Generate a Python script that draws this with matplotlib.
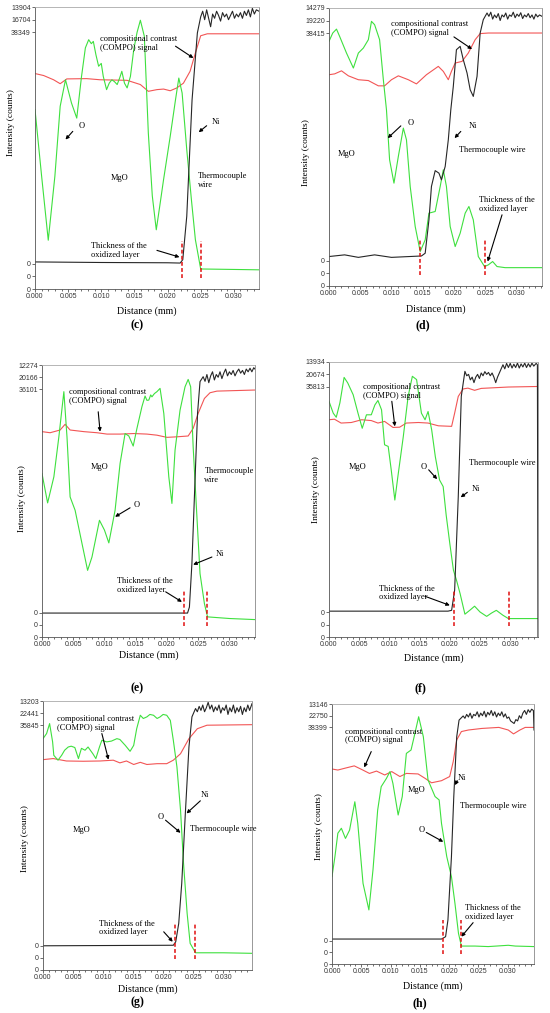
import matplotlib.pyplot as plt
from matplotlib.ticker import MultipleLocator, FixedLocator

# ---- data: (distance mm, normalised intensity 0..1) ----
# panel (c)
c_o = [(0, 0.636), (0.0010, 0.40), (0.0020, 0.173), (0.0030, 0.40), (0.0038, 0.648), (0.0046, 0.742),
       (0.0055, 0.66), (0.0063, 0.606), (0.0070, 0.75), (0.0076, 0.855), (0.0081, 0.884), (0.0085, 0.87),
       (0.0088, 0.878), (0.0092, 0.83), (0.0096, 0.79), (0.0100, 0.80), (0.0103, 0.754), (0.0108, 0.707),
       (0.0112, 0.73), (0.0116, 0.742), (0.0120, 0.735), (0.0124, 0.725), (0.0128, 0.75), (0.0131, 0.772),
       (0.0135, 0.73), (0.0139, 0.713), (0.0144, 0.754), (0.0149, 0.849), (0.0154, 0.91), (0.0159, 0.953),
       (0.0165, 0.896), (0.0171, 0.553), (0.0177, 0.33), (0.0183, 0.210), (0.0188, 0.29), (0.0194, 0.388),
       (0.0204, 0.541), (0.0212, 0.671), (0.0217, 0.748), (0.0222, 0.695), (0.0229, 0.494), (0.0236, 0.317),
       (0.0242, 0.175), (0.0250, 0.071), (0.0280, 0.070), (0.0310, 0.069), (0.0338, 0.068)]
c_ni = [(0, 0.096), (0.010, 0.094), (0.020, 0.093), (0.0219, 0.092), (0.0223, 0.104), (0.0229, 0.258),
        (0.0237, 0.671), (0.0245, 0.908), (0.0250, 0.965), (0.0253, 0.985), (0.0256, 0.955), (0.0259, 0.99),
        (0.0262, 0.96), (0.0265, 0.93), (0.0268, 0.975), (0.0271, 0.96), (0.0274, 0.985), (0.0277, 0.97),
        (0.0280, 0.95), (0.0283, 0.98), (0.0286, 0.965), (0.0289, 0.975), (0.0292, 0.955), (0.0295, 0.97),
        (0.0298, 0.985), (0.0301, 0.96), (0.0304, 0.975), (0.0307, 0.965), (0.0310, 0.98), (0.0313, 0.96),
        (0.0316, 0.985), (0.0319, 0.97), (0.0322, 0.99), (0.0325, 0.965), (0.0328, 0.995), (0.0331, 0.975),
        (0.0334, 0.99), (0.0338, 0.985)]
c_compo = [(0, 0.764), (0.0013, 0.757), (0.0028, 0.742), (0.0038, 0.728), (0.0048, 0.745), (0.0078, 0.746),
           (0.0098, 0.742), (0.0139, 0.740), (0.0159, 0.725), (0.0171, 0.701), (0.0184, 0.707), (0.0194, 0.709),
           (0.0204, 0.703), (0.0214, 0.713), (0.0224, 0.730), (0.0234, 0.772), (0.0242, 0.837), (0.0250, 0.898),
           (0.0260, 0.905), (0.0338, 0.905)]
c_layer = [0.0222, 0.0251]
c_yticks = ['13904', '16704', '38349']

# panel (d)
d_o = [(0, 0.88), (0.0006, 0.91), (0.0012, 0.924), (0.0017, 0.898), (0.0028, 0.838), (0.0039, 0.784),
       (0.0047, 0.838), (0.0055, 0.856), (0.0063, 0.886), (0.0068, 0.952), (0.0073, 0.940), (0.0081, 0.886),
       (0.0087, 0.742), (0.0092, 0.634), (0.0097, 0.454), (0.0104, 0.370), (0.0111, 0.466), (0.0119, 0.568),
       (0.0124, 0.526), (0.0130, 0.358), (0.0138, 0.214), (0.0146, 0.124), (0.0154, 0.166), (0.0160, 0.262),
       (0.0170, 0.268), (0.0178, 0.358), (0.0183, 0.418), (0.0188, 0.358), (0.0194, 0.214), (0.0202, 0.142),
       (0.0210, 0.190), (0.0218, 0.262), (0.0224, 0.286), (0.0231, 0.238), (0.0239, 0.106), (0.0249, 0.070),
       (0.0255, 0.076), (0.0262, 0.088), (0.0269, 0.070), (0.0282, 0.066), (0.0341, 0.066)]
d_ni = [(0, 0.106), (0.0025, 0.112), (0.0047, 0.103), (0.0073, 0.112), (0.0100, 0.103), (0.0148, 0.108),
        (0.0154, 0.118), (0.0160, 0.238), (0.0164, 0.358), (0.0170, 0.415), (0.0176, 0.406), (0.0180, 0.382),
        (0.0186, 0.430), (0.0191, 0.526), (0.0195, 0.634), (0.0199, 0.718), (0.0204, 0.850), (0.0210, 0.862),
        (0.0215, 0.814), (0.0221, 0.766), (0.0226, 0.706), (0.0231, 0.682), (0.0237, 0.754), (0.0242, 0.910),
        (0.0247, 0.958), (0.0253, 0.982), (0.0256, 0.970), (0.0259, 0.985), (0.0262, 0.960), (0.0265, 0.975),
        (0.0268, 0.965), (0.0271, 0.980), (0.0274, 0.955), (0.0277, 0.975), (0.0280, 0.968), (0.0283, 0.982),
        (0.0286, 0.960), (0.0289, 0.975), (0.0292, 0.970), (0.0295, 0.985), (0.0298, 0.965), (0.0301, 0.978),
        (0.0304, 0.970), (0.0307, 0.983), (0.0310, 0.962), (0.0313, 0.975), (0.0316, 0.968), (0.0319, 0.980),
        (0.0322, 0.965), (0.0325, 0.975), (0.0328, 0.960), (0.0331, 0.978), (0.0334, 0.968), (0.0337, 0.975),
        (0.0341, 0.970)]
d_compo = [(0, 0.760), (0.0009, 0.763), (0.0020, 0.774), (0.0031, 0.756), (0.0047, 0.742), (0.0063, 0.739),
           (0.0079, 0.720), (0.0089, 0.720), (0.0100, 0.742), (0.0111, 0.756), (0.0127, 0.742), (0.0140, 0.727),
           (0.0156, 0.760), (0.0175, 0.790), (0.0183, 0.772), (0.0191, 0.742), (0.0196, 0.772), (0.0202, 0.802),
           (0.0213, 0.808), (0.0223, 0.838), (0.0234, 0.886), (0.0242, 0.908), (0.0255, 0.910), (0.0341, 0.910)]
d_layer = [0.0145, 0.0249]
d_yticks = ['14279', '19220', '38415']

# panel (e)
e_o = [(0, 0.601), (0.0009, 0.493), (0.0019, 0.589), (0.0027, 0.736), (0.0035, 0.902), (0.0040, 0.736),
       (0.0045, 0.515), (0.0053, 0.466), (0.0064, 0.344), (0.0073, 0.245), (0.0080, 0.294), (0.0092, 0.429),
       (0.0100, 0.393), (0.0107, 0.346), (0.0117, 0.466), (0.0125, 0.638), (0.0133, 0.748), (0.0139, 0.739),
       (0.0146, 0.702), (0.0152, 0.767), (0.0160, 0.847), (0.0165, 0.886), (0.0168, 0.870), (0.0171, 0.871),
       (0.0174, 0.890), (0.0176, 0.883), (0.0180, 0.895), (0.0184, 0.902), (0.0189, 0.914), (0.0195, 0.822),
       (0.0203, 0.589), (0.0208, 0.491), (0.0213, 0.687), (0.0221, 0.834), (0.0229, 0.920), (0.0234, 0.947),
       (0.0238, 0.920), (0.0242, 0.699), (0.0248, 0.442), (0.0253, 0.233), (0.0260, 0.123), (0.0265, 0.074),
       (0.0300, 0.068), (0.0341, 0.064)]
e_ni = [(0, 0.088), (0.0233, 0.088), (0.0236, 0.110), (0.0240, 0.270), (0.0245, 0.577), (0.0249, 0.822),
        (0.0253, 0.939), (0.0258, 0.957), (0.0261, 0.940), (0.0264, 0.965), (0.0267, 0.935), (0.0270, 0.960),
        (0.0273, 0.975), (0.0276, 0.945), (0.0279, 0.965), (0.0282, 0.955), (0.0285, 0.975), (0.0288, 0.950),
        (0.0291, 0.970), (0.0294, 0.985), (0.0297, 0.960), (0.0300, 0.975), (0.0303, 0.965), (0.0306, 0.980),
        (0.0309, 0.960), (0.0312, 0.975), (0.0315, 0.985), (0.0318, 0.970), (0.0321, 0.980), (0.0324, 0.965),
        (0.0327, 0.985), (0.0330, 0.975), (0.0333, 0.988), (0.0336, 0.975), (0.0339, 0.990), (0.0341, 0.985)]
e_compo = [(0, 0.755), (0.0013, 0.751), (0.0029, 0.761), (0.0037, 0.782), (0.0045, 0.761), (0.0067, 0.755),
           (0.0088, 0.751), (0.0104, 0.746), (0.0125, 0.746), (0.0147, 0.748), (0.0168, 0.746), (0.0184, 0.742),
           (0.0200, 0.734), (0.0216, 0.736), (0.0234, 0.739), (0.0242, 0.767), (0.0250, 0.822), (0.0260, 0.877),
           (0.0269, 0.898), (0.0280, 0.904), (0.0341, 0.908)]
e_layer = [0.0228, 0.0264]
e_yticks = ['12274', '20166', '36101']

# panel (f)
f_o = [(0, 0.857), (0.0007, 0.814), (0.0012, 0.799), (0.0018, 0.851), (0.0025, 0.944), (0.0031, 0.924),
       (0.0040, 0.881), (0.0048, 0.814), (0.0055, 0.759), (0.0062, 0.808), (0.0070, 0.808), (0.0076, 0.844),
       (0.0081, 0.860), (0.0087, 0.826), (0.0092, 0.699), (0.0098, 0.693), (0.0103, 0.608), (0.0109, 0.498),
       (0.0114, 0.583), (0.0123, 0.729), (0.0131, 0.875), (0.0138, 0.948), (0.0145, 0.936), (0.0153, 0.814),
       (0.0159, 0.790), (0.0164, 0.820), (0.0170, 0.753), (0.0176, 0.656), (0.0183, 0.571), (0.0189, 0.547),
       (0.0194, 0.443), (0.0200, 0.340), (0.0206, 0.243), (0.0211, 0.207), (0.0217, 0.158), (0.0225, 0.083),
       (0.0233, 0.097), (0.0241, 0.112), (0.0250, 0.091), (0.0261, 0.075), (0.0269, 0.087), (0.0277, 0.097),
       (0.0288, 0.079), (0.0297, 0.067), (0.0346, 0.067)]
f_ni = [(0, 0.094), (0.0197, 0.094), (0.0203, 0.097), (0.0208, 0.170), (0.0214, 0.510), (0.0219, 0.875),
        (0.0225, 0.966), (0.0228, 0.950), (0.0231, 0.955), (0.0234, 0.935), (0.0237, 0.945), (0.0240, 0.925),
        (0.0243, 0.945), (0.0246, 0.955), (0.0249, 0.940), (0.0252, 0.960), (0.0255, 0.950), (0.0258, 0.965),
        (0.0261, 0.955), (0.0264, 0.962), (0.0267, 0.950), (0.0270, 0.960), (0.0273, 0.945), (0.0276, 0.925),
        (0.0279, 0.945), (0.0282, 0.960), (0.0285, 0.975), (0.0288, 0.990), (0.0291, 0.975), (0.0294, 0.995),
        (0.0297, 0.980), (0.0300, 0.995), (0.0303, 0.978), (0.0306, 0.992), (0.0309, 0.980), (0.0312, 0.996),
        (0.0315, 0.978), (0.0318, 0.993), (0.0321, 0.982), (0.0324, 0.996), (0.0327, 0.980), (0.0330, 0.994),
        (0.0333, 0.982), (0.0336, 0.996), (0.0339, 0.985), (0.0343, 0.995), (0.0345, 0.990), (0.0346, 0.0)]
f_compo = [(0, 0.790), (0.0009, 0.792), (0.0020, 0.778), (0.0037, 0.780), (0.0054, 0.790), (0.0070, 0.787),
           (0.0081, 0.778), (0.0092, 0.784), (0.0106, 0.762), (0.0117, 0.763), (0.0128, 0.778), (0.0148, 0.780),
           (0.0164, 0.778), (0.0181, 0.768), (0.0203, 0.766), (0.0208, 0.814), (0.0214, 0.875), (0.0222, 0.902),
           (0.0230, 0.905), (0.0241, 0.897), (0.0252, 0.904), (0.0297, 0.909), (0.0346, 0.911)]
f_layer = [0.0207, 0.0298]
f_yticks = ['13934', '20674', '35813']

# panel (g)
g_o = [(0, 0.860), (0.0006, 0.879), (0.0011, 0.916), (0.0016, 0.848), (0.0018, 0.798), (0.0025, 0.780),
       (0.0031, 0.798), (0.0036, 0.817), (0.0042, 0.829), (0.0047, 0.832), (0.0053, 0.827), (0.0059, 0.786),
       (0.0064, 0.824), (0.0070, 0.817), (0.0075, 0.829), (0.0083, 0.804), (0.0088, 0.786), (0.0094, 0.829),
       (0.0098, 0.854), (0.0106, 0.848), (0.0114, 0.851), (0.0123, 0.860), (0.0128, 0.857), (0.0137, 0.835),
       (0.0145, 0.813), (0.0151, 0.835), (0.0156, 0.897), (0.0162, 0.947), (0.0167, 0.935), (0.0173, 0.941),
       (0.0178, 0.950), (0.0184, 0.947), (0.0190, 0.935), (0.0195, 0.941), (0.0200, 0.950), (0.0206, 0.947),
       (0.0212, 0.928), (0.0217, 0.854), (0.0223, 0.755), (0.0229, 0.594), (0.0234, 0.396), (0.0240, 0.210),
       (0.0245, 0.099), (0.0254, 0.064), (0.0300, 0.064), (0.0348, 0.062)]
g_ni = [(0, 0.090), (0.0217, 0.092), (0.0221, 0.105), (0.0226, 0.173), (0.0231, 0.322), (0.0237, 0.582),
        (0.0243, 0.829), (0.0248, 0.941), (0.0254, 0.972), (0.0257, 0.960), (0.0260, 0.980), (0.0263, 0.965),
        (0.0266, 0.985), (0.0269, 0.960), (0.0272, 0.975), (0.0275, 0.995), (0.0278, 0.970), (0.0281, 0.985),
        (0.0284, 0.960), (0.0287, 0.978), (0.0290, 0.965), (0.0293, 0.985), (0.0296, 0.955), (0.0299, 0.975),
        (0.0302, 0.965), (0.0305, 0.985), (0.0308, 0.950), (0.0311, 0.975), (0.0314, 0.960), (0.0317, 0.985),
        (0.0320, 0.955), (0.0323, 0.975), (0.0326, 0.960), (0.0329, 0.980), (0.0332, 0.950), (0.0335, 0.975),
        (0.0338, 0.960), (0.0341, 0.985), (0.0344, 0.965), (0.0348, 0.990)]
g_compo = [(0, 0.782), (0.0017, 0.786), (0.0039, 0.777), (0.0067, 0.776), (0.0095, 0.777), (0.0117, 0.780),
           (0.0128, 0.770), (0.0139, 0.777), (0.0151, 0.764), (0.0162, 0.772), (0.0173, 0.764), (0.0190, 0.767),
           (0.0206, 0.767), (0.0217, 0.780), (0.0229, 0.804), (0.0243, 0.860), (0.0257, 0.897), (0.0273, 0.910),
           (0.0348, 0.912)]
g_layer = [0.0219, 0.0253]
g_yticks = ['13203', '22441', '35845']

# panel (h)
h_o = [(0, 0.336), (0.0005, 0.413), (0.0010, 0.503), (0.0016, 0.522), (0.0023, 0.483), (0.0030, 0.515),
       (0.0039, 0.624), (0.0044, 0.541), (0.0053, 0.310), (0.0063, 0.208), (0.0070, 0.362), (0.0078, 0.592),
       (0.0084, 0.682), (0.0093, 0.714), (0.0099, 0.740), (0.0104, 0.695), (0.0113, 0.573), (0.0120, 0.644),
       (0.0127, 0.810), (0.0135, 0.823), (0.0141, 0.881), (0.0148, 0.951), (0.0156, 0.874), (0.0164, 0.708),
       (0.0176, 0.644), (0.0183, 0.631), (0.0187, 0.541), (0.0196, 0.413), (0.0204, 0.336), (0.0210, 0.233),
       (0.0216, 0.118), (0.0221, 0.069), (0.0244, 0.069), (0.0267, 0.067), (0.0301, 0.072), (0.0313, 0.069),
       (0.0345, 0.067)]
h_ni = [(0, 0.096), (0.0187, 0.096), (0.0194, 0.105), (0.0198, 0.169), (0.0204, 0.413), (0.0208, 0.644),
        (0.0213, 0.874), (0.0217, 0.938), (0.0224, 0.954), (0.0227, 0.945), (0.0230, 0.960), (0.0233, 0.950),
        (0.0236, 0.965), (0.0239, 0.945), (0.0242, 0.960), (0.0245, 0.955), (0.0248, 0.970), (0.0251, 0.950),
        (0.0254, 0.965), (0.0257, 0.955), (0.0260, 0.972), (0.0263, 0.950), (0.0266, 0.968), (0.0269, 0.958),
        (0.0272, 0.975), (0.0275, 0.955), (0.0278, 0.970), (0.0281, 0.950), (0.0284, 0.965), (0.0287, 0.955),
        (0.0290, 0.970), (0.0293, 0.950), (0.0296, 0.962), (0.0299, 0.945), (0.0302, 0.950), (0.0305, 0.935),
        (0.0308, 0.930), (0.0311, 0.925), (0.0314, 0.940), (0.0317, 0.935), (0.0320, 0.955), (0.0323, 0.945),
        (0.0326, 0.965), (0.0329, 0.975), (0.0332, 0.960), (0.0335, 0.978), (0.0338, 0.968), (0.0341, 0.980),
        (0.0344, 0.975), (0.0345, 0.900)]
h_compo = [(0, 0.750), (0.0010, 0.746), (0.0022, 0.753), (0.0038, 0.762), (0.0050, 0.749), (0.0064, 0.733),
           (0.0076, 0.742), (0.0090, 0.727), (0.0102, 0.740), (0.0116, 0.721), (0.0127, 0.733), (0.0147, 0.731),
           (0.0159, 0.714), (0.0170, 0.697), (0.0187, 0.705), (0.0201, 0.721), (0.0207, 0.778), (0.0213, 0.862),
           (0.0221, 0.894), (0.0233, 0.900), (0.0256, 0.906), (0.0285, 0.910), (0.0301, 0.900), (0.0310, 0.885),
           (0.0321, 0.900), (0.0330, 0.910), (0.0345, 0.910)]
h_layer = [0.0189, 0.0220]
h_yticks = ['13146', '22750', '38399']

COMPO = 'compositional contrast\n(COMPO) signal'
THICK = 'Thickness of the\noxidized layer'

W, H = 550, 1013
fig = plt.figure(figsize=(W / 100, H / 100), dpi=100)
serif = 'Liberation Serif'
sans = 'Liberation Sans'


def panel(box, label, label_xy, xmax, o, ni, compo, layer, ylab, texts, arrows, ylab_pos, xlab_y):
    l, t, r, b = box
    ax = fig.add_axes([l / W, 1 - b / H, (r - l) / W, (b - t) / H])
    for curve, col in ((compo, '#f25555'), (o, '#3ee03e'), (ni, '#262626')):
        xs, ys = zip(*curve)
        ax.plot(xs, ys, color=col, lw=0.8)
    for xv in layer:
        ax.plot([xv, xv], [0.04, 0.17], color='#e01010', lw=1.1, ls=(0, (2.5, 1.5)))
    ax.set_xlim(0, xmax)
    ax.set_ylim(0, 1)
    ax.xaxis.set_major_locator(MultipleLocator(0.005))
    ax.xaxis.set_minor_locator(MultipleLocator(0.001))
    ax.xaxis.set_major_formatter(plt.FuncFormatter(lambda v, p: f'{v:.3f}'))
    ax.yaxis.set_major_locator(FixedLocator([0, 0.045, 0.09, 0.91, 0.955, 1.0]))
    ax.set_yticklabels(['0', '0', '0'] + ylab[::-1])
    ax.tick_params(labelsize=5, length=2, width=0.5, pad=1, colors='#333333')
    ax.tick_params(which='minor', length=1.2, width=0.4)
    for lab in ax.get_xticklabels() + ax.get_yticklabels():
        lab.set_family(sans)
    for s in ax.spines.values():
        s.set_linewidth(0.6)
        s.set_color('#555555')
    ax.spines['top'].set_color('#aaaaaa')
    ax.spines['right'].set_color('#888888')
    ax.set_xlabel('Distance (mm)', family=serif, fontsize=7.2)
    ax.set_ylabel('Intensity (counts)', family=serif, fontsize=6.8)
    ax.xaxis.set_label_coords(0.5, xlab_y)
    ax.yaxis.set_label_coords(*ylab_pos)
    for x, y, s, ha in texts:
        ax.text(x, y, s, family=serif, fontsize=6, ha=ha, va='center', linespacing=1.15)
    for tail, head in arrows:
        ax.annotate('', xy=head, xytext=tail,
                    arrowprops=dict(arrowstyle='-|>', color='black', lw=0.8, mutation_scale=5,
                                    shrinkA=0, shrinkB=0))
    fig.text(label_xy[0] / W, 1 - label_xy[1] / H, label, family=serif, fontsize=8.5,
             fontweight='bold', ha='center', va='center')


panel((35, 7, 259, 289), '(c)', (137, 325), 0.0338, c_o, c_ni, c_compo, c_layer, c_yticks,
      [(0.0098, 0.870, COMPO, 'left'), (0.0070, 0.577, 'O', 'center'), (0.0273, 0.591, 'Ni', 'center'),
       (0.0128, 0.394, 'MgO', 'center'), (0.0246, 0.385, 'Thermocouple\nwire', 'left'),
       (0.0084, 0.135, THICK, 'left')],
      [((0.0212, 0.861), (0.0239, 0.819)), ((0.0057, 0.559), (0.0046, 0.530)),
       ((0.0259, 0.579), (0.0247, 0.556)), ((0.0184, 0.137), (0.0218, 0.113))],
      (-0.089, 0.59), -0.06)

panel((329, 8, 542, 286), '(d)', (423, 325), 0.0341, d_o, d_ni, d_compo, d_layer, d_yticks,
      [(0.0099, 0.927, COMPO, 'left'), (0.0130, 0.588, 'O', 'center'), (0.0230, 0.574, 'Ni', 'center'),
       (0.0028, 0.475, 'MgO', 'center'), (0.0208, 0.490, 'Thermocouple wire', 'left'),
       (0.0240, 0.294, THICK, 'left')],
      [((0.0200, 0.896), (0.0229, 0.852)), ((0.0115, 0.576), (0.0094, 0.532)),
       ((0.0211, 0.556), (0.0201, 0.532)), ((0.0277, 0.256), (0.0254, 0.088))],
      (-0.089, 0.48), -0.065)

panel((42, 365, 255, 637), '(e)', (137, 688), 0.0341, e_o, e_ni, e_compo, e_layer, e_yticks,
      [(0.0044, 0.883, COMPO, 'left'), (0.0092, 0.626, 'MgO', 'center'),
       (0.0260, 0.594, 'Thermocouple\nwire', 'left'), (0.0152, 0.485, 'O', 'center'),
       (0.0284, 0.304, 'Ni', 'center'), (0.0120, 0.190, THICK, 'left')],
      [((0.0090, 0.828), (0.0093, 0.755)), ((0.0141, 0.475), (0.0117, 0.442)),
       ((0.0272, 0.294), (0.0242, 0.266)), ((0.0198, 0.166), (0.0224, 0.129))],
      (-0.075, 0.51), -0.05)

panel((329, 362, 538, 637), '(f)', (420, 688), 0.0346, f_o, f_ni, f_compo, f_layer, f_yticks,
      [(0.0056, 0.894, COMPO, 'left'), (0.0047, 0.620, 'MgO', 'center'), (0.0157, 0.617, 'O', 'center'),
       (0.0231, 0.632, 'Thermocouple wire', 'left'), (0.0243, 0.537, 'Ni', 'center'),
       (0.0082, 0.160, THICK, 'left')],
      [((0.0104, 0.857), (0.0109, 0.766)), ((0.0165, 0.608), (0.0179, 0.574)),
       ((0.0229, 0.526), (0.0218, 0.508)), ((0.0159, 0.148), (0.0200, 0.115))],
      (-0.043, 0.535), -0.058)

panel((43, 701, 252, 970), '(g)', (137, 1002), 0.0348, g_o, g_ni, g_compo, g_layer, g_yticks,
      [(0.0023, 0.916, COMPO, 'left'), (0.0269, 0.650, 'Ni', 'center'), (0.0196, 0.569, 'O', 'center'),
       (0.0065, 0.522, 'MgO', 'center'), (0.0244, 0.526, 'Thermocouple wire', 'left'),
       (0.0093, 0.156, THICK, 'left')],
      [((0.0098, 0.879), (0.0109, 0.782)), ((0.0262, 0.629), (0.0239, 0.582)),
       ((0.0204, 0.557), (0.0229, 0.510)), ((0.0201, 0.142), (0.0216, 0.105))],
      (-0.067, 0.487), -0.055)

panel((332, 704, 534, 964), '(h)', (420, 1003), 0.0345, h_o, h_ni, h_compo, h_layer, h_yticks,
      [(0.0022, 0.877, COMPO, 'left'), (0.0145, 0.669, 'MgO', 'center'), (0.0221, 0.714, 'Ni', 'center'),
       (0.0218, 0.608, 'Thermocouple wire', 'left'), (0.0153, 0.515, 'O', 'center'),
       (0.0228, 0.199, THICK, 'left')],
      [((0.0067, 0.817), (0.0055, 0.756)), ((0.0214, 0.705), (0.0210, 0.688)),
       ((0.0161, 0.506), (0.0190, 0.470)), ((0.0241, 0.159), (0.0221, 0.105))],
      (-0.045, 0.527), -0.065)

fig.savefig('out.png', dpi=100)
